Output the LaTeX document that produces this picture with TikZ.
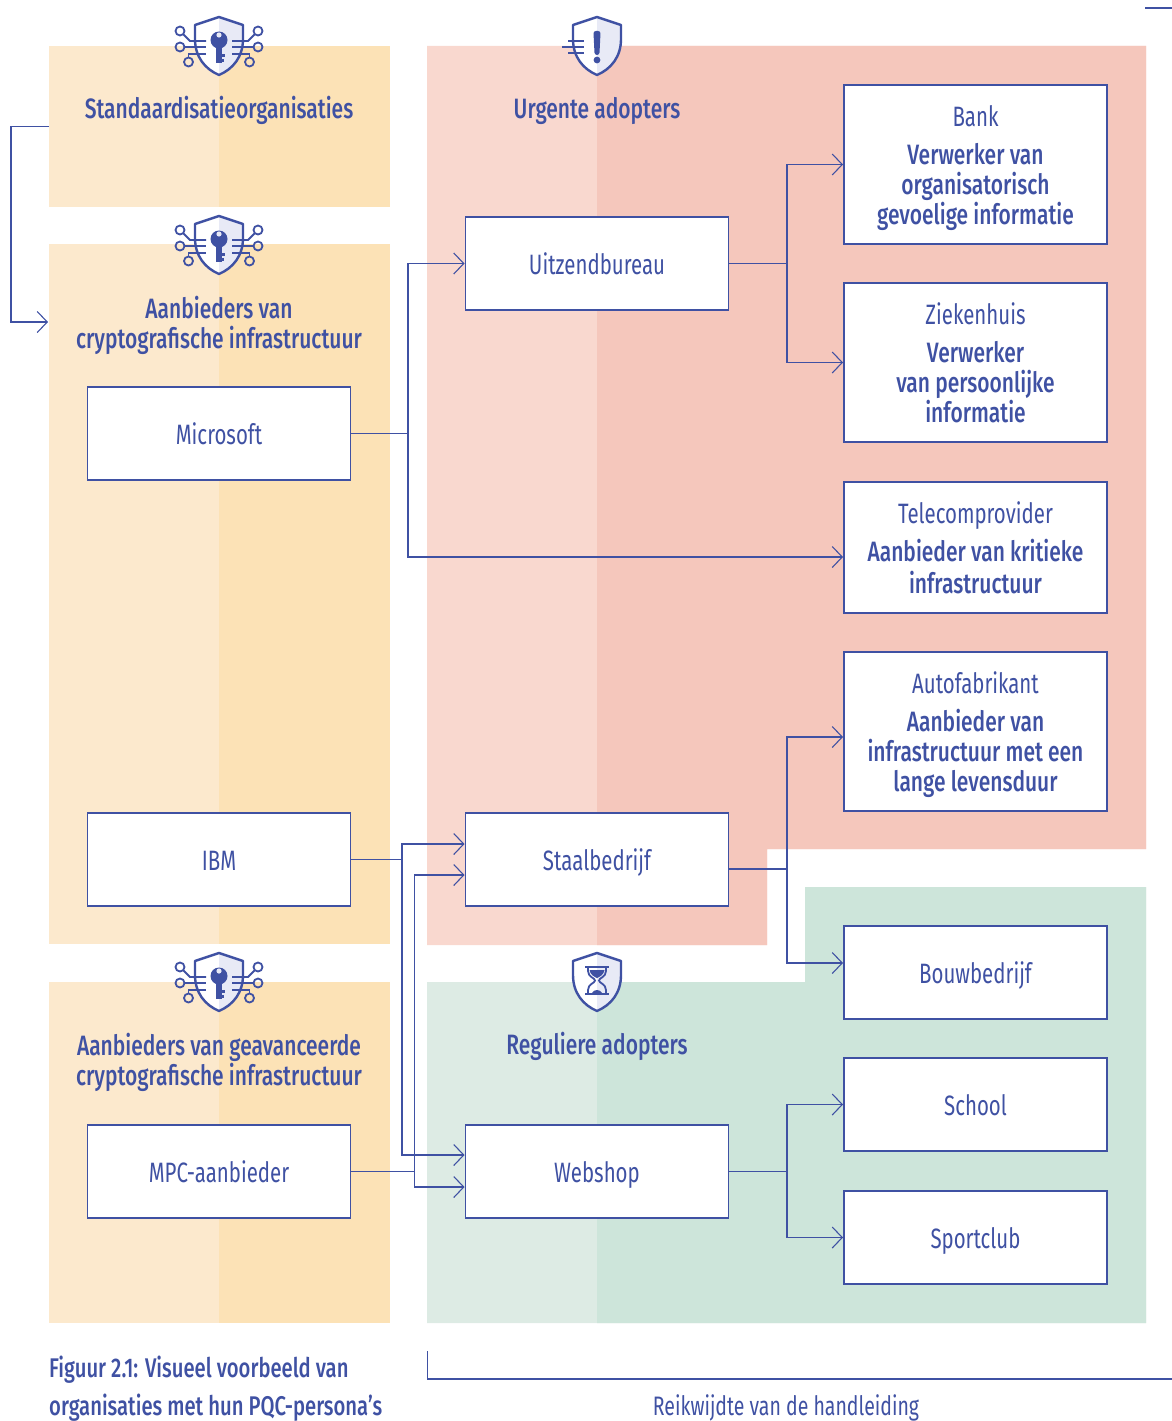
\documentclass[tikz,border=0pt]{standalone}
\usepackage{fontspec}
\setmainfont[FakeStretch=0.73,BoldFont={Fira Sans Medium},BoldFeatures={FakeStretch=0.75}]{Fira Sans}
\usetikzlibrary{arrows.meta}
\definecolor{ink}{HTML}{3F51A3}
\definecolor{sandL}{HTML}{FCE9CD}
\definecolor{sandD}{HTML}{FCE2B6}
\definecolor{redL}{HTML}{F9D8CF}
\definecolor{redD}{HTML}{F5C7BC}
\definecolor{greenL}{HTML}{DDEBE4}
\definecolor{greenD}{HTML}{CDE5DA}
\definecolor{shieldR}{HTML}{E8EAF6}
\newcommand{\topstrutA}{\rule{0pt}{31pt}}
\newcommand{\topstrutB}{\rule{0pt}{28pt}}
\newcommand{\botstrut}{\rule[-9pt]{0pt}{9pt}}
\tikzset{
  panel/.style={fill=sandL,draw=none,minimum width=341pt,inner sep=0pt,outer sep=0pt},
  org/.style={draw=ink,fill=white,line width=1.1pt,minimum width=263pt,inner sep=0pt,outer sep=0pt,
    text=ink,align=center,font=\fontsize{28}{30}\selectfont,execute at begin node=\topstrutA,execute at end node=\botstrut},
  head/.style={text=ink,align=center,inner sep=0pt,font=\fontsize{28}{30}\selectfont\bfseries,execute at begin node=\topstrutB,execute at end node=\botstrut},
  conn/.style={draw=ink,line width=1.1pt},
  arr/.style={conn,shorten >=1pt,-{Straight Barb[length=10pt,width=21pt,line width=1.1pt]}},
  iconline/.style={draw=ink,line width=1.8pt},
  pics/shield/.style={code={
    \fill[white] (0,0) -- (0,58) .. controls (-14,52) and (-24,40) .. (-24,22) -- (-24,8) -- cycle;
    \fill[shieldR] (0,0) -- (0,58) .. controls (14,52) and (24,40) .. (24,22) -- (24,8) -- cycle;
    \draw[ink,line width=2.4pt,line join=round] (0,0) -- (24,8) -- (24,22) .. controls (24,40) and (14,52) .. (0,58)
      .. controls (-14,52) and (-24,40) .. (-24,22) -- (-24,8) -- cycle;
  }},
  pics/keyicon/.style={code={
    \pic {shield};
    \fill[ink] (0,23) circle[radius=8.5];
    \fill[ink] (-2.6,28) rectangle (2.6,46);
    \fill[ink] (2.6,37) rectangle (6,40);
    \fill[ink] (2.6,42) rectangle (5,45);
    \fill[shieldR] (0,18) circle[radius=2.6];
    \foreach \s in {-1,1}{
      \begin{scope}[xscale=\s]
      \draw[iconline] (39,14) circle[radius=4.5];
      \draw[iconline] (39,30) circle[radius=4.5];
      \draw[iconline] (30.5,45) circle[radius=4.5];
      \draw[iconline] (35.5,17.5) -- (29,24) -- (13,24);
      \draw[iconline] (34.5,30) -- (13,30);
      \draw[iconline] (30.5,40.5) -- (30.5,37) -- (13,37);
      \end{scope}
    }
  }},
  pics/alerticon/.style={code={
    \pic {shield};
    \fill[ink,rounded corners=2.5pt] (-3.6,14) -- (3.6,14) -- (2.4,38) -- (-2.4,38) -- cycle;
    \fill[ink] (0,43) circle[radius=3.4];
    \draw[iconline] (-29,24) -- (-13,24);
    \draw[iconline] (-35,30) -- (-13,30);
    \draw[iconline] (-29,36) -- (-13,36);
  }},
  pics/glassicon/.style={code={
    \pic {shield};
    \draw[iconline] (-12,14) -- (12,14);
    \draw[iconline] (-12,41) -- (12,41);
    \draw[iconline] (-9,14) -- (-9,18) .. controls (-9,24) and (-2,25) .. (-2,27.5) .. controls (-2,30) and (-9,31) .. (-9,37) -- (-9,41);
    \draw[iconline] (9,14) -- (9,18) .. controls (9,24) and (2,25) .. (2,27.5) .. controls (2,30) and (9,31) .. (9,37) -- (9,41);
    \fill[ink] (-7.5,17) -- (7.5,17) .. controls (7,22) and (2,24) .. (0,25) .. controls (-2,24) and (-7,22) .. (-7.5,17) -- cycle;
    \fill[ink] (-5,40) .. controls (-3,36) and (3,36) .. (5,40) -- cycle;
  }},
}
\begin{document}
\begin{tikzpicture}[x=1pt,y=-1pt]
\useasboundingbox (0,0) rectangle (1172,1421);
% left panels
\node[panel,minimum height=161pt] (std) at (219.5,126.5) {};
\fill[sandD] (219,46) rectangle (std.south east);
\node[panel,minimum height=700pt] (prov) at (219.5,594) {};
\fill[sandD] (219,244) rectangle (prov.south east);
\node[panel,minimum height=341pt] (adv) at (219.5,1152.5) {};
\fill[sandD] (219,982) rectangle (adv.south east);
% red and green zones
\fill[redL] (427,46) -- (1146,46) -- (1146,849) -- (767,849) -- (767,945) -- (427,945) -- cycle;
\fill[redD] (597,46) -- (1146,46) -- (1146,849) -- (767,849) -- (767,945) -- (597,945) -- cycle;
\fill[greenL] (427,982) -- (805,982) -- (805,887) -- (1146,887) -- (1146,1323) -- (427,1323) -- cycle;
\fill[greenD] (597,982) -- (805,982) -- (805,887) -- (1146,887) -- (1146,1323) -- (597,1323) -- cycle;
% scope bracket and corner mark
\coordinate (scopeTop) at (427.5,1351);
\coordinate (scopeCorner) at (427.5,1379);
\coordinate (scopeEnd) at (1172,1379);
\draw[conn] (scopeTop) -- (scopeCorner) -- (scopeEnd);
\coordinate (markA) at (1145,8);
\coordinate (markB) at (1172,8);
\draw[conn] (markA) -- (markB);
% icons
\pic at (219,17) {keyicon};
\pic at (219,216) {keyicon};
\pic at (219,953) {keyicon};
\pic at (597,17) {alerticon};
\pic at (597,953) {glassicon};
% headings
\node[head] (hStd) at (219,109) {Standaardisatieorganisaties};
\node[head] (hProv) at (219,323.5) {\topstrutB Aanbieders van\\cryptografische infrastructuur};
\node[head] (hAdv) at (219,1060.5) {\topstrutB Aanbieders van geavanceerde\\cryptografische infrastructuur};
\node[head] (hUrg) at (597,109) {Urgente adopters};
\node[head] (hReg) at (597,1045) {Reguliere adopters};
% organisation boxes
\node[org,minimum height=93pt] (ms) at (219,433.5) {Microsoft};
\node[org,minimum height=93pt] (ibm) at (219,859.5) {IBM};
\node[org,minimum height=93pt] (mpc) at (219,1171.5) {MPC-aanbieder};
\node[org,minimum height=93pt] (uitz) at (597,263.5) {Uitzendbureau};
\node[org,minimum height=93pt] (staal) at (597,859.5) {Staalbedrijf};
\node[org,minimum height=93pt] (web) at (597,1171.5) {Webshop};
\node[org,minimum height=159pt] (bank) at (975.5,164.5) {\topstrutA Bank\\[8pt]\textbf{Verwerker van}\\\textbf{organisatorisch}\\\textbf{gevoelige informatie}};
\node[org,minimum height=159pt] (zkh) at (975.5,362.5) {\topstrutA Ziekenhuis\\[8pt]\textbf{Verwerker}\\\textbf{van persoonlijke}\\\textbf{informatie}};
\node[org,minimum height=131pt] (tel) at (975.5,547.5) {\topstrutA Telecomprovider\\[8pt]\textbf{Aanbieder van kritieke}\\[2pt]\textbf{infrastructuur}};
\node[org,minimum height=159pt] (auto) at (975.5,731.5) {\topstrutA Autofabrikant\\[8pt]\textbf{Aanbieder van}\\\textbf{infrastructuur met een}\\\textbf{lange levensduur}};
\node[org,minimum height=93pt] (bouw) at (975.5,972.5) {Bouwbedrijf};
\node[org,minimum height=93pt] (school) at (975.5,1104.5) {School};
\node[org,minimum height=93pt] (sport) at (975.5,1237.5) {Sportclub};
% connectors
\draw[arr] (std.west) -- ++(-38,0) |- ([yshift=-78pt]prov.north west);
\draw[arr] (ms.east) -- ++(57.5,0) |- (uitz.west);
\draw[arr] (ms.east) -- ++(57.5,0) |- ([yshift=-9.5pt]tel.west);
\draw[arr] (uitz.east) -- ++(58.5,0) |- (bank.west);
\draw[arr] (uitz.east) -- ++(58.5,0) |- (zkh.west);
\draw[arr] ([yshift=-9.5pt]staal.east) -- ++(58.5,0) |- ([yshift=-5.5pt]auto.west);
\draw[arr] ([yshift=-9.5pt]staal.east) -- ++(58.5,0) |- ([yshift=9.5pt]bouw.west);
\draw[arr] (ibm.east) -- ++(51.5,0) |- ([yshift=15.5pt]staal.west);
\draw[arr] (ibm.east) -- ++(51.5,0) |- ([yshift=16.5pt]web.west);
\draw[arr] (mpc.east) -- ++(64,0) |- ([yshift=-15.5pt]staal.west);
\draw[arr] (mpc.east) -- ++(64,0) |- ([yshift=-15.5pt]web.west);
\draw[arr] (web.east) -- ++(58.5,0) |- (school.west);
\draw[arr] (web.east) -- ++(58.5,0) |- (sport.west);
% captions
\node[text=ink,align=left,anchor=north west,inner sep=0pt,font=\fontsize{27}{38}\selectfont\bfseries] (cap) at (49,1356) {Figuur 2.1: Visueel voorbeeld van\\organisaties met hun PQC-persona’s};
\node[text=ink,inner sep=0pt,font=\fontsize{26.7}{30}\selectfont] (scopeLabel) at (786,1408) {Reikwijdte van de handleiding};
\end{tikzpicture}
\end{document}
